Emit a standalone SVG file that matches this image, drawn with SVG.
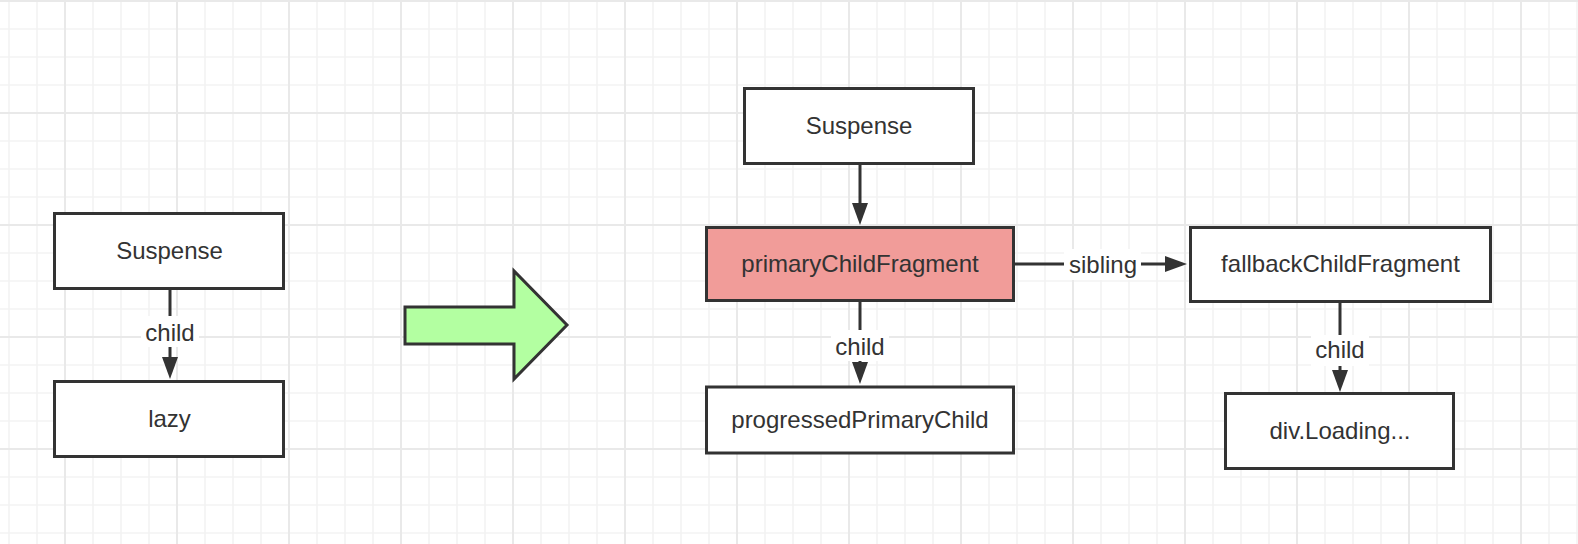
<svg xmlns="http://www.w3.org/2000/svg" width="1578" height="544" viewBox="0 0 1578 544">
<style>
.node{fill:#ffffff;stroke:#333333;stroke-width:3}
.pink{fill:#f19c99}
.t{font-family:"Liberation Sans","Noto Sans",Arial,sans-serif;font-size:24px;fill:#333333;text-anchor:middle}
.edge{stroke:#333333;stroke-width:3;fill:none}
.lbg{fill:#ffffff}
</style>
<defs>
<pattern id="grid" patternUnits="userSpaceOnUse" x="51" y="-13" width="112" height="112">
<g stroke="#f3f3f3" stroke-width="1.6">
<line x1="42" y1="0" x2="42" y2="112"/><line x1="70" y1="0" x2="70" y2="112"/><line x1="98" y1="0" x2="98" y2="112"/>
<line x1="0" y1="42" x2="112" y2="42"/><line x1="0" y1="70" x2="112" y2="70"/><line x1="0" y1="98" x2="112" y2="98"/>
</g>
<g stroke="#e9e9e9" stroke-width="2">
<line x1="14" y1="0" x2="14" y2="112"/><line x1="0" y1="14" x2="112" y2="14"/>
</g>
</pattern>
<marker id="ah" markerUnits="userSpaceOnUse" markerWidth="24" markerHeight="18" refX="0" refY="8" orient="auto" viewBox="0 0 24 16">
<path d="M0,0 L22,8 L0,16 Z" fill="#333333"/>
</marker>
</defs>
<rect width="1578" height="544" fill="#ffffff"/>
<rect width="1578" height="544" fill="url(#grid)"/>

<g id="connectors">
<line class="edge" x1="170" y1="290" x2="170" y2="357" marker-end="url(#ah)"/>
<rect class="lbg" x="141" y="316" width="58" height="31"/>
<text class="t" x="170" y="341">child</text>

<line class="edge" x1="860" y1="165" x2="860" y2="203" marker-end="url(#ah)"/>

<line class="edge" x1="860" y1="302" x2="860" y2="362" marker-end="url(#ah)"/>
<rect class="lbg" x="831" y="330" width="58" height="31"/>
<text class="t" x="860" y="355">child</text>

<line class="edge" x1="1340" y1="303" x2="1340" y2="370" marker-end="url(#ah)"/>
<rect class="lbg" x="1311" y="335" width="58" height="31"/>
<text class="t" x="1340" y="358">child</text>

<line class="edge" x1="1015" y1="264" x2="1165" y2="264" marker-end="url(#ah)"/>
<rect class="lbg" x="1064" y="249" width="77" height="31"/>
<text class="t" x="1103" y="273">sibling</text>
</g>

<g id="node-suspense-left">
<rect class="node" x="54.5" y="213.5" width="229" height="75"/>
<text class="t" x="169.5" y="259">Suspense</text>
</g>
<g id="node-lazy">
<rect class="node" x="54.5" y="381.5" width="229" height="75"/>
<text class="t" x="169.5" y="427">lazy</text>
</g>
<g id="big-arrow">
<polygon points="405,307 514,307 514,271 567,325 514,379 514,344 405,344" fill="#b3ffa1" stroke="#333333" stroke-width="3" stroke-linejoin="miter"/>
</g>
<g id="node-suspense-right">
<rect class="node" x="744.5" y="88.5" width="229" height="75"/>
<text class="t" x="859" y="134">Suspense</text>
</g>
<g id="node-primary">
<rect class="node pink" x="706.5" y="227.5" width="307" height="73"/>
<text class="t" x="860" y="272">primaryChildFragment</text>
</g>
<g id="node-progressed">
<rect class="node" x="706.5" y="387" width="307" height="66"/>
<text class="t" x="860" y="428">progressedPrimaryChild</text>
</g>
<g id="node-fallback">
<rect class="node" x="1190.5" y="227.5" width="300" height="74"/>
<text class="t" x="1340.5" y="272">fallbackChildFragment</text>
</g>
<g id="node-loading">
<rect class="node" x="1225.5" y="393.5" width="228" height="75"/>
<text class="t" x="1340" y="439">div.Loading...</text>
</g>
</svg>
